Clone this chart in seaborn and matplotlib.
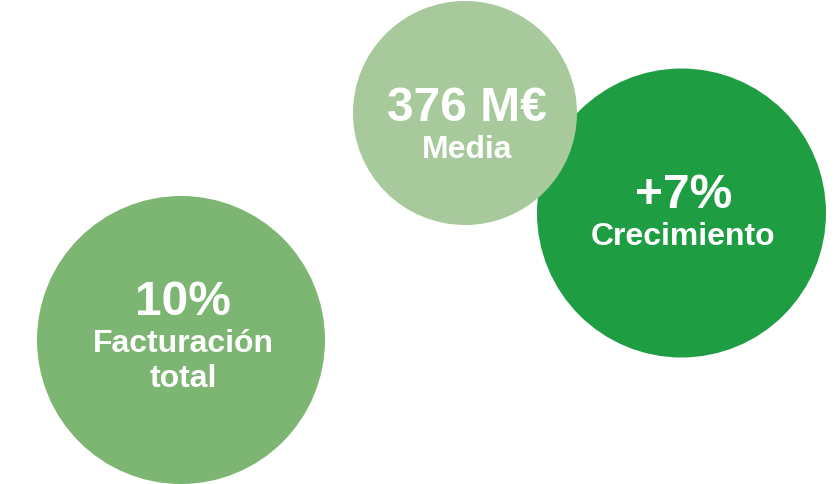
import matplotlib
matplotlib.use("Agg")
import matplotlib.pyplot as plt
import seaborn as sns
import pandas as pd

# bubble data (pixel space of an 836x485 canvas)
names = ["Facturación total", "Crecimiento", "Media"]
values = ["10%", "+7%", "376 M€"]
subtitles = [["Facturación", "total"], ["Crecimiento"], ["Media"]]
bubble_x = [181, 681.5, 465]
bubble_y = [341, 214, 114]
bubble_r = [144, 144.5, 112]
colors = ["#7db572", "#1f9d42", "#a8c99c"]

W, H, DPI = 836, 485, 100

df = pd.DataFrame({"name": names, "x": bubble_x, "y": bubble_y, "r": bubble_r})
# marker size in points^2 so diameter matches the radius in pixels
df["s"] = (2 * df["r"] * 72 / DPI) ** 2

sns.set_theme(style="white")
plt.rcParams["font.family"] = ["Liberation Sans", "DejaVu Sans"]

fig = plt.figure(figsize=(W / DPI, H / DPI), dpi=DPI)
ax = fig.add_axes([0, 0, 1, 1])

sns.scatterplot(data=df, x="x", y="y", hue="name", palette=dict(zip(names, colors)),
                s=df["s"], linewidth=0, alpha=1, legend=False, ax=ax)

ax.set_xlim(0, W)
ax.set_ylim(H, 0)
ax.set_axis_off()

# baseline of the value text relative to the bubble centre
value_shift = [-26, -6, 7]

for i in range(len(df)):
    cx = df["x"][i] + 2
    base = df["y"][i] + value_shift[i]
    ax.text(cx, base, values[i], ha="center", va="baseline", color="white",
            fontsize=34.5, fontweight="bold")
    for j, ln in enumerate(subtitles[i]):
        ax.text(cx, base + 37.5 + j * 35, ln, ha="center", va="baseline",
                color="white", fontsize=23, fontweight="bold")

fig.savefig("out.png", dpi=DPI)
